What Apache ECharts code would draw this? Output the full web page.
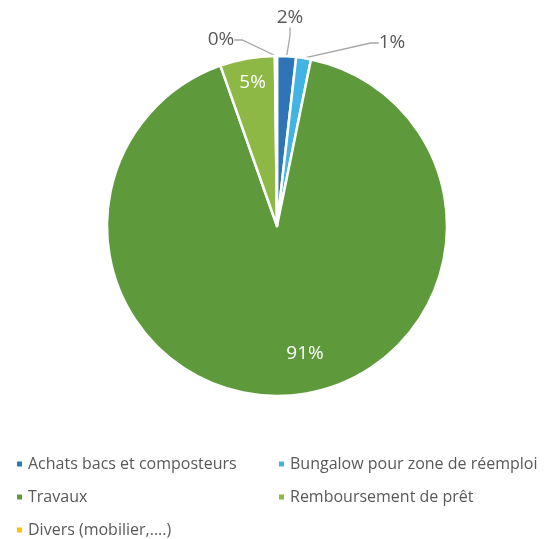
<!DOCTYPE html>
<html><head><meta charset="utf-8">
<script src="https://cdn.jsdelivr.net/npm/echarts@6/dist/echarts.min.js"></script>
<style>html,body{margin:0;padding:0;background:#fff}#c{width:553px;height:539px}</style>
</head><body><div id="c"></div>
<script>
var categories = ['Achats bacs et composteurs','Bungalow pour zone de réemploi','Travaux','Remboursement de prêt','Divers (mobilier,....)'];
var values = [1.8, 1.4, 91.4, 5.2, 0.2];
var colors = ['#2E75B6','#41B4E4','#5E9A3C','#8DB845','#FFC000'];

var total = values.reduce(function(a,b){return a+b;},0);
var labelOffsets = {
  0: {x: 290, y: 18},
  1: {x: 392, y: 43},
  3: {dx: -9, dy: -57},
  4: {x: 221, y: 40},
  2: {dx: 22, dy: 40}
};
var insideSet = {2:true, 3:true};
var data = categories.map(function(c,i){
  var inside = !!insideSet[i];
  return {
    name: c,
    value: values[i],
    itemStyle: {color: colors[i]},
    label: {position: inside ? 'inside' : 'outside', color: inside ? '#ffffff' : '#595959'},
    labelLine: {show: !inside, length: 12, length2: 8, lineStyle: {color: '#a6a6a6', width: 1.3}}
  };
});

var legendText = {fontFamily: 'Open Sans', fontSize: 16, color: '#595959', lineHeight: 16};
var chart = echarts.init(document.getElementById('c'), null, {renderer:'canvas'});
chart.setOption({
  animation: false,
  backgroundColor: '#ffffff',
  legend: [
    {data: [categories[0], categories[2], categories[4]], orient:'vertical', left: 15, top: 456, padding: 0,
     itemWidth: 7, itemHeight: 7, itemGap: 17, icon: 'rect', textStyle: legendText},
    {data: [categories[1], categories[3]], orient:'vertical', left: 277, top: 456, padding: 0,
     itemWidth: 7, itemHeight: 7, itemGap: 17, icon: 'rect', textStyle: legendText}
  ],
  series: [{
    type: 'pie',
    center: [277, 226],
    radius: [0, 170],
    startAngle: 90,
    clockwise: true,
    avoidLabelOverlap: false,
    itemStyle: {borderColor: '#ffffff', borderWidth: 2.5},
    label: {
      fontFamily: 'Open Sans', fontSize: 19, fontWeight: 'normal',
      formatter: function(p){ return Math.round(p.value / total * 100) + '%'; }
    },
    labelLayout: function(p){
      var o = labelOffsets[p.dataIndex];
      if (!o) return {};
      if (o.x !== undefined) return {x: o.x, y: o.y, align: 'center', verticalAlign: 'middle'};
      return {dx: o.dx, dy: o.dy};
    },
    data: data
  }]
});
</script></body></html>
